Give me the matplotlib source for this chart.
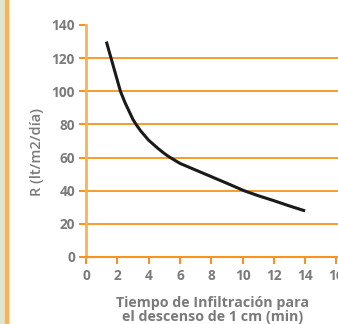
import numpy as np
import matplotlib
matplotlib.use("Agg")
import matplotlib.pyplot as plt
from matplotlib.patches import Rectangle

# valori
tiempo = [1.3, 1.6, 1.9, 2.2, 2.5, 2.7, 3.0, 3.2, 3.5, 4.0, 4.3, 4.6, 5.0, 5.3,
          6.0, 6.5, 7.0, 8.0, 9.0, 10.1, 11.0, 12.0, 13.0, 14.0]
R = [130, 120, 110, 100, 93, 89, 83, 80, 76, 70.5, 68, 65.5, 62.5, 60.5,
     56.5, 54.5, 52.5, 48.5, 44.5, 40, 37, 34, 30.8, 27.8]
xticks = [0, 2, 4, 6, 8, 10, 12, 14, 16]
yticks = [0, 20, 40, 60, 80, 100, 120, 140]

naranja = "#f7941d"
naranja_claro = "#f9b257"
gris = "#7a7a7a"

plt.rcParams["font.family"] = ["Open Sans", "DejaVu Sans"]

fig = plt.figure(figsize=(3.38, 3.24), dpi=100)
fig.patch.set_facecolor("white")

# striscia verde a sinistra
fig.patches.append(Rectangle((0, 0), 5 / 338, 1, transform=fig.transFigure,
                             color="#dfe6d0", zorder=0))
fig.patches.append(Rectangle((5 / 338, 0), 2.5 / 338, 1, transform=fig.transFigure,
                             color=naranja_claro, zorder=0))

ax = fig.add_axes([86 / 338, 1 - 257 / 324, 252 / 338, 232 / 324])
ax.set_xlim(0, 16.1)
ax.set_ylim(0, 140)

for v in yticks[1:-1]:
    ax.axhline(v, color=naranja, lw=1.3, zorder=1, clip_on=False)

ax.plot(tiempo, R, color="#1a1a1a", lw=2.2, zorder=3, solid_capstyle="butt",
        solid_joinstyle="round")

ax.spines["top"].set_visible(False)
ax.spines["right"].set_visible(False)
ax.spines["left"].set_color(naranja_claro)
ax.spines["left"].set_linewidth(2.0)
ax.spines["bottom"].set_color(naranja)
ax.spines["bottom"].set_linewidth(1.5)

ax.set_xticks(xticks)
ax.set_yticks(yticks)
ax.tick_params(axis="y", colors=naranja, length=5, width=1.5, labelcolor=gris,
               labelsize=9.8, pad=3)
ax.tick_params(axis="x", colors=naranja, length=5, width=1.5, labelcolor=gris,
               labelsize=9.8, pad=4)
for lab in ax.get_xticklabels() + ax.get_yticklabels():
    lab.set_fontweight("bold")

fig.text(37 / 338, 1 - 152 / 324, "R (lt/m2/día)", rotation=90, color=gris,
         fontsize=10.5, fontweight="semibold", ha="center", va="center")
fig.text(213 / 338, 1 - 310 / 324, "Tiempo de Infiltración para\nel descenso de 1 cm (min)",
         color=gris, fontsize=10.3, fontweight="bold", ha="center", va="center",
         linespacing=0.95)

fig.savefig("out.png", dpi=100)
